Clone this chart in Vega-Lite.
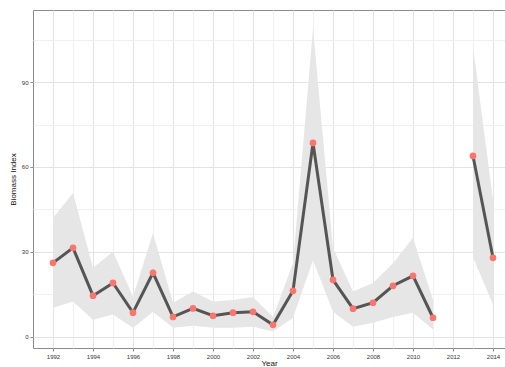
{
  "$schema": "https://vega.github.io/schema/vega-lite/v6.json",
  "width": 472,
  "height": 338,
  "autosize": {"type": "none"},
  "padding": {"left": 33, "top": 10, "right": 0, "bottom": 19},
  "background": "white",
  "config": {
    "view": {"stroke": "#8c8c8c", "strokeWidth": 1},
    "font": "Liberation Sans",
    "axis": {
      "labelFont": "Liberation Sans",
      "titleFont": "Liberation Sans",
      "labelFontSize": 6,
      "titleFontSize": 8,
      "titleFontWeight": "normal",
      "labelColor": "#333",
      "titleColor": "#111",
      "domain": false,
      "tickColor": "#888",
      "tickSize": 3,
      "labelPadding": 2
    }
  },
  "data": {
    "values": [
      {"Year": 1992, "v": 26.1, "lo": 10.2, "hi": 42, "seg": 1},
      {"Year": 1993, "v": 31.4, "lo": 12.4, "hi": 50.8, "seg": 1},
      {"Year": 1994, "v": 14.5, "lo": 6, "hi": 24.4, "seg": 1},
      {"Year": 1995, "v": 19, "lo": 7.8, "hi": 30, "seg": 1},
      {"Year": 1996, "v": 8.5, "lo": 3.2, "hi": 14.1, "seg": 1},
      {"Year": 1997, "v": 22.6, "lo": 8.8, "hi": 36.7, "seg": 1},
      {"Year": 1998, "v": 7, "lo": 3.2, "hi": 12, "seg": 1},
      {"Year": 1999, "v": 10, "lo": 3.9, "hi": 16, "seg": 1},
      {"Year": 2000, "v": 7.4, "lo": 3.2, "hi": 12.4, "seg": 1},
      {"Year": 2001, "v": 8.5, "lo": 3.2, "hi": 13, "seg": 1},
      {"Year": 2002, "v": 8.8, "lo": 3.5, "hi": 14, "seg": 1},
      {"Year": 2003, "v": 4.2, "lo": 1.8, "hi": 7, "seg": 1},
      {"Year": 2004, "v": 16.2, "lo": 6.7, "hi": 26, "seg": 1},
      {"Year": 2005, "v": 68.5, "lo": 27, "hi": 109, "seg": 1},
      {"Year": 2006, "v": 20.1, "lo": 8.8, "hi": 31.4, "seg": 1},
      {"Year": 2007, "v": 9.9, "lo": 3.5, "hi": 16, "seg": 1},
      {"Year": 2008, "v": 12, "lo": 4.9, "hi": 19, "seg": 1},
      {"Year": 2009, "v": 18, "lo": 7, "hi": 26, "seg": 1},
      {"Year": 2010, "v": 21.5, "lo": 8.5, "hi": 35, "seg": 1},
      {"Year": 2011, "v": 6.7, "lo": 2.5, "hi": 13, "seg": 1},
      {"Year": 2013, "v": 63.9, "lo": 28.2, "hi": 102.4, "seg": 2},
      {"Year": 2014, "v": 27.9, "lo": 11.3, "hi": 48.4, "seg": 2}
    ]
  },
  "encoding": {
    "x": {
      "field": "Year",
      "type": "quantitative",
      "scale": {"domain": [1991, 2014.6], "nice": false, "zero": false},
      "axis": {
        "title": "Year",
        "titlePadding": 0,
        "values": [1992,1993,1994,1995,1996,1997,1998,1999,2000,2001,2002,2003,2004,2005,2006,2007,2008,2009,2010,2011,2012,2013,2014],
        "labelExpr": "datum.value % 2 == 0 ? datum.label : ''",
        "format": "d",
        "gridColor": {"condition": {"test": "datum.value % 2 == 0", "value": "#e3e3e3"}, "value": "#f0f0f0"},
        "tickOpacity": {"condition": {"test": "datum.value % 2 == 0", "value": 1}, "value": 0}
      }
    }
  },
  "layer": [
    {
      "mark": {"type": "area", "color": "#e6e6e6", "opacity": 1},
      "encoding": {
        "y": {
          "field": "lo",
          "type": "quantitative",
          "scale": {"domain": [-4, 115.5], "nice": false, "zero": false},
          "axis": {
            "title": "Biomass Index",
            "titlePadding": 4,
            "values": [0, 15, 30, 45, 60, 75, 90, 105],
            "labelExpr": "datum.value % 30 == 0 ? datum.label : ''",
            "gridColor": {"condition": {"test": "datum.value % 30 == 0", "value": "#e3e3e3"}, "value": "#f0f0f0"},
            "tickOpacity": {"condition": {"test": "datum.value % 30 == 0", "value": 1}, "value": 0}
          }
        },
        "y2": {"field": "hi"},
        "detail": {"field": "seg", "type": "nominal"}
      }
    },
    {
      "mark": {"type": "line", "color": "#555555", "strokeWidth": 3},
      "encoding": {
        "y": {"field": "v", "type": "quantitative"},
        "detail": {"field": "seg", "type": "nominal"}
      }
    },
    {
      "mark": {"type": "circle", "color": "#F8766D", "opacity": 1, "size": 45},
      "encoding": {
        "y": {"field": "v", "type": "quantitative"}
      }
    }
  ]
}
